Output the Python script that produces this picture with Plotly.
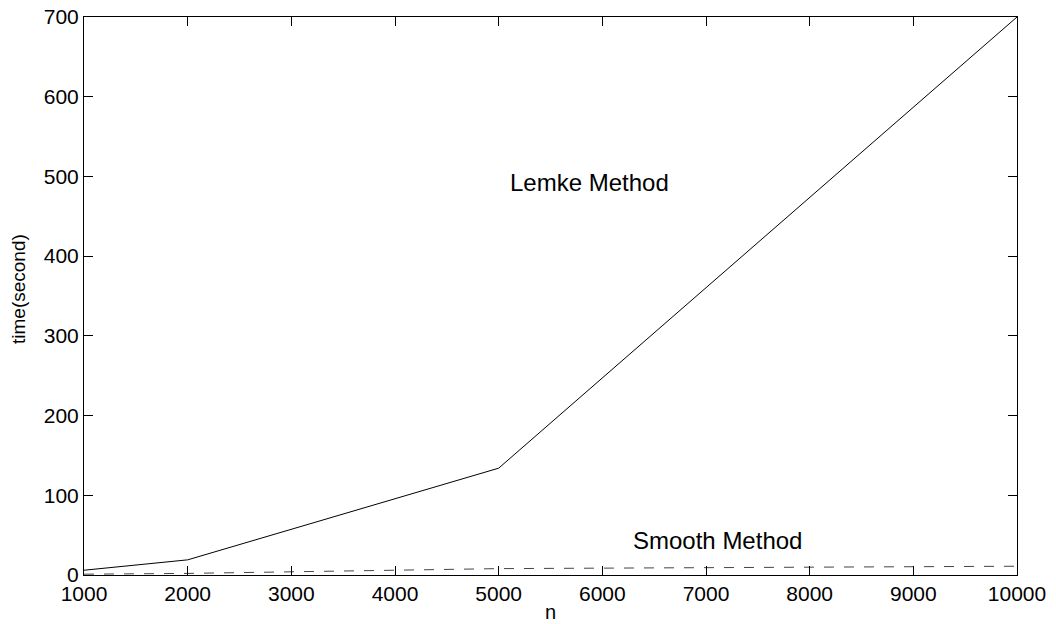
import plotly.graph_objects as go

n_values = [1000, 2000, 5000, 10000]
lemke_time = [6, 19, 134, 700]
smooth_time = [1, 2, 8, 11]
x_ticks = [1000, 2000, 3000, 4000, 5000, 6000, 7000, 8000, 9000, 10000]
y_ticks = [0, 100, 200, 300, 400, 500, 600, 700]

FONT = "Liberation Sans, Arial, Helvetica"

fig = go.Figure()
fig.add_trace(go.Scatter(x=n_values, y=lemke_time, mode="lines",
                         line=dict(color="black", width=1), showlegend=False))
fig.add_trace(go.Scatter(x=n_values, y=smooth_time, mode="lines",
                         line=dict(color="#444444", width=1, dash="10px,10px"), showlegend=False))

fig.add_annotation(x=5880, y=493, text="Lemke Method", showarrow=False,
                   font=dict(family=FONT, size=24, color="black"))
fig.add_annotation(x=7110, y=43, text="Smooth Method", showarrow=False,
                   font=dict(family=FONT, size=24, color="black"))

# axis titles placed as annotations for exact positioning
fig.add_annotation(xref="paper", yref="paper", x=0.5, y=0, yshift=-37,
                   text="n", showarrow=False, xanchor="center", yanchor="middle",
                   font=dict(family=FONT, size=20, color="black"))
fig.add_annotation(xref="paper", yref="paper", x=0, y=0.5, xshift=-66, yshift=7,
                   text="time(second)", textangle=-90, showarrow=False,
                   xanchor="center", yanchor="middle",
                   font=dict(family=FONT, size=19, color="black"))

axis_common = dict(showgrid=False, zeroline=False, showline=True, linecolor="black",
                   linewidth=1, mirror="ticks", ticks="inside", ticklen=9,
                   tickcolor="black", tickwidth=1, ticklabeloverflow="allow",
                   automargin=False,
                   tickfont=dict(family=FONT, size=21, color="black"))

fig.update_xaxes(range=[1000, 10000], tickvals=x_ticks,
                 ticktext=[str(v) for v in x_ticks], **axis_common)
fig.update_yaxes(range=[0, 700], tickvals=y_ticks,
                 ticktext=[str(v) for v in y_ticks], **axis_common)

fig.update_layout(width=1048, height=616, plot_bgcolor="white", paper_bgcolor="white",
                  margin=dict(l=76, r=39, t=9, b=49))

fig.write_html("out.html")
